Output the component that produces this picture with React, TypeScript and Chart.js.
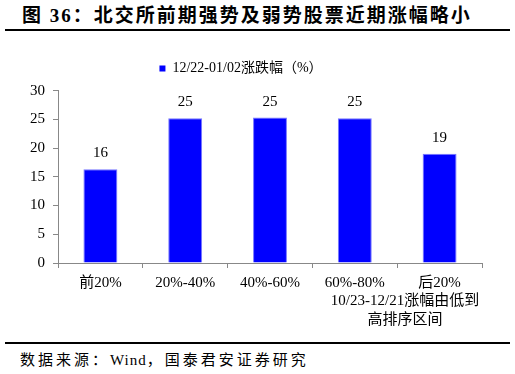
import React, { useEffect, useRef } from "react";
import { Chart, registerables } from "chart.js";

Chart.register(...registerables);

const categories: string[] = ["前20%", "20%-40%", "40%-60%", "60%-80%", "后20%"];
const seriesName = "12/22-01/02涨跌幅（%）";
const seriesValues: number[] = [16.3, 25.2, 25.3, 25.2, 19.0];
const yTicks: number[] = [0, 5, 10, 15, 20, 25, 30];
const xAxisTitle: string[] = ["10/23-12/21涨幅由低到", "高排序区间"];
const titleText = "图 36：北交所前期强势及弱势股票近期涨幅略小";
const sourceParts: string[] = ["数据来源：", "Wind", "，国泰君安证券研究"];

const FONT = '"Liberation Serif", "Noto Sans CJK SC", serif';

const valueLabelPlugin = {
  id: "valueLabels",
  afterDatasetsDraw(chart: any) {
    const { ctx } = chart;
    const meta = chart.getDatasetMeta(0);
    ctx.save();
    ctx.font = `15px ${FONT}`;
    ctx.fillStyle = "#000";
    ctx.textAlign = "center";
    ctx.textBaseline = "middle";
    meta.data.forEach((bar: any, i: number) => {
      const v = chart.data.datasets[0].data[i] as number;
      ctx.fillText(String(Math.round(v)), bar.x, bar.y - 16);
    });
    ctx.restore();
  },
};

const legendGapPlugin = {
  id: "legendGap",
  beforeUpdate(chart: any) {
    const lg = chart.legend;
    if (lg && !lg._gapPatched) {
      const f = lg.fit.bind(lg);
      lg.fit = function () {
        f();
        this.height += 5;
      };
      lg._gapPatched = true;
    }
  },
};

export default function App() {
  const canvasRef = useRef<HTMLCanvasElement | null>(null);

  useEffect(() => {
    if (!canvasRef.current) return;
    const chart = new Chart(canvasRef.current, {
      type: "bar",
      data: {
        labels: categories,
        datasets: [
          {
            label: seriesName,
            data: seriesValues,
            backgroundColor: "#0000FF",
            borderColor: "#7777FF",
            borderWidth: 1,
            categoryPercentage: 1,
            barPercentage: 0.4,
          },
        ],
      },
      options: {
        animation: false,
        responsive: false,
        maintainAspectRatio: false,
        devicePixelRatio: 1,
        layout: { padding: { left: 0, right: 33, top: 2, bottom: 0 } },
        plugins: {
          legend: {
            display: true,
            position: "top",
            labels: {
              font: { family: FONT, size: 14 },
              color: "#000",
              boxWidth: 6,
              boxHeight: 6,
              padding: 13.6,
              generateLabels: () => [
                {
                  text: seriesName,
                  fillStyle: "#0000FF",
                  strokeStyle: "#0000FF",
                  lineWidth: 0,
                  hidden: false,
                  datasetIndex: 0,
                },
              ],
            },
          },
          tooltip: { enabled: false },
        },
        scales: {
          x: {
            grid: {
              offset: true,
              drawOnChartArea: false,
              drawTicks: true,
              tickLength: 5,
              color: "#888",
            },
            border: { color: "#888", width: 1 },
            ticks: {
              font: { family: FONT, size: 15 },
              color: "#000",
              padding: 6,
              maxRotation: 0,
              autoSkip: false,
            },
          },
          y: {
            min: 0,
            max: 30,
            afterBuildTicks: (s: any) => {
              s.ticks = yTicks.map((v) => ({ value: v }));
            },
            afterFit: (s: any) => {
              s.width = 58;
            },
            grid: {
              drawOnChartArea: false,
              drawTicks: true,
              tickLength: 5,
              color: "#888",
            },
            border: { color: "#888", width: 1 },
            ticks: {
              font: { family: FONT, size: 15 },
              color: "#000",
              padding: 8,
            },
          },
        },
      },
      plugins: [valueLabelPlugin, legendGapPlugin],
    });
    return () => chart.destroy();
  }, []);

  return (
    <div
      style={{
        position: "fixed",
        left: 0,
        top: 0,
        width: 515,
        height: 374,
        background: "#fff",
        fontFamily: FONT,
        color: "#000",
      }}
    >
      <div
        style={{
          position: "absolute",
          left: 22,
          top: 4,
          fontSize: 19,
          fontWeight: "bold",
          letterSpacing: 2,
          whiteSpace: "nowrap",
          lineHeight: "24px",
        }}
      >
        {titleText}
      </div>
      <div
        style={{
          position: "absolute",
          left: 5,
          top: 29,
          width: 505,
          height: 2,
          background: "#000",
        }}
      />
      <canvas
        ref={canvasRef}
        width={515}
        height={252}
        style={{ position: "absolute", left: 0, top: 46, width: 515, height: 252 }}
      />
      <div
        style={{
          position: "absolute",
          left: 305,
          width: 200,
          top: 291,
          textAlign: "center",
          fontSize: 15,
          lineHeight: "19px",
          whiteSpace: "nowrap",
        }}
      >
        {xAxisTitle.map((t, i) => (
          <div key={i}>{t}</div>
        ))}
      </div>
      <div
        style={{
          position: "absolute",
          left: 5,
          top: 342,
          width: 505,
          height: 2,
          background: "#000",
        }}
      />
      <div
        style={{
          position: "absolute",
          left: 20,
          top: 350,
          fontSize: 15,
          lineHeight: "20px",
          whiteSpace: "nowrap",
        }}
      >
        <span style={{ letterSpacing: 3 }}>{sourceParts[0]}</span>
        <span style={{ letterSpacing: 1 }}>{sourceParts[1]}</span>
        <span style={{ letterSpacing: 3 }}>{sourceParts[2]}</span>
      </div>
    </div>
  );
}
